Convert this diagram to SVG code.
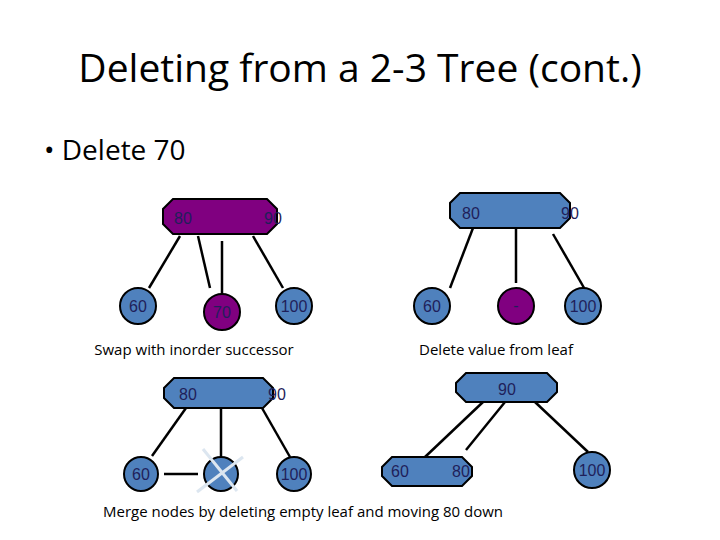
<svg xmlns="http://www.w3.org/2000/svg" width="720" height="540" viewBox="0 0 720 540">
<style>
.b{fill:#4f81bd;stroke:#000;stroke-width:2}
.p{fill:#800080;stroke:#000;stroke-width:2}
.t{font-family:"Liberation Sans",Arial,sans-serif;font-size:16px;fill:#1f1f5a;text-anchor:middle}
.c{stroke:#000;stroke-width:2.5;fill:none}
.cap{font-family:"Open Sans","Liberation Sans",sans-serif;font-size:15px;fill:#000}
</style>
<rect width="720" height="540" fill="#fff"/>
<text x="360" y="82" font-family="Open Sans, Liberation Sans, sans-serif" font-size="39" text-anchor="middle" fill="#000">Deleting from a 2-3 Tree (cont.)</text>
<text x="44" y="160" font-family="Open Sans, Liberation Sans, sans-serif" font-size="28" fill="#000">• Delete 70</text>
<g id="connectors">
<line class="c" x1="180" y1="236" x2="149" y2="288"/>
<line class="c" x1="198" y1="236" x2="210" y2="288"/>
<line class="c" x1="222" y1="241" x2="222" y2="294"/>
<line class="c" x1="253" y1="236" x2="283" y2="288"/>
<line class="c" x1="473" y1="228" x2="450" y2="288"/>
<line class="c" x1="516" y1="228" x2="516" y2="283"/>
<line class="c" x1="553" y1="234" x2="587" y2="293"/>
<line class="c" x1="186" y1="408" x2="152" y2="456"/>
<line class="c" x1="221" y1="408" x2="221" y2="456"/>
<line class="c" x1="262" y1="408" x2="290" y2="457"/>
<line class="c" x1="164" y1="474" x2="198" y2="474"/>
<line class="c" x1="483" y1="402" x2="425" y2="457"/>
<line class="c" x1="505" y1="402" x2="466" y2="450"/>
<line class="c" x1="535" y1="402" x2="588" y2="452"/>
</g>
<g id="n1"><polygon class="p" points="173,199 267,199 277,209 277,224 267,234 173,234 163,224 163,209"/><text class="t" x="183" y="224">80</text><text class="t" x="273" y="224">90</text></g>
<g id="n2"><circle class="b" cx="138" cy="306" r="18"/><text class="t" x="138" y="312">60</text></g>
<g id="n3"><circle class="p" cx="222" cy="312" r="18"/><text class="t" x="222" y="318">70</text></g>
<g id="n4"><circle class="b" cx="294" cy="306" r="18"/><text class="t" x="294" y="312">100</text></g>
<text class="cap" x="194" y="355" text-anchor="middle">Swap with inorder successor</text>
<g id="n5"><polygon class="b" points="460,193 560,193 570,203 570,218 560,228 460,228 450,218 450,203"/><text class="t" x="471" y="219">80</text><text class="t" x="570" y="219">90</text></g>
<g id="n6"><circle class="b" cx="432" cy="306" r="18"/><text class="t" x="432" y="312">60</text></g>
<g id="n7"><circle class="p" cx="516" cy="306" r="18"/><text class="t" x="516" y="311" fill="#3a3a8a">-</text></g>
<g id="n8"><circle class="b" cx="583" cy="306" r="18"/><text class="t" x="583" y="312">100</text></g>
<text class="cap" x="496" y="355" text-anchor="middle">Delete value from leaf</text>
<g id="n9"><polygon class="b" points="174,378 263,378 273,388 273,398 263,408 174,408 164,398 164,388"/><text class="t" x="188" y="400">80</text><text class="t" x="277" y="400">90</text></g>
<g id="n10"><circle class="b" cx="141" cy="474" r="17"/><text class="t" x="141" y="480">60</text></g>
<g id="n11"><circle class="b" cx="221" cy="474" r="17"/><line x1="197" y1="492" x2="243" y2="457" stroke="#dce6f0" stroke-width="3"/><line x1="203" y1="449" x2="237" y2="491" stroke="#dce6f0" stroke-width="3"/></g>
<g id="n12"><circle class="b" cx="294" cy="474" r="17"/><text class="t" x="294" y="480">100</text></g>
<g id="n13"><polygon class="b" points="466,373 547,373 557,383 557,392 547,402 466,402 456,392 456,383"/><text class="t" x="507" y="395">90</text></g>
<g id="n14"><polygon class="b" points="392,457 462,457 472,467 472,476 462,486 392,486 382,476 382,467"/><text class="t" x="400" y="477">60</text><text class="t" x="461" y="477">80</text></g>
<g id="n15"><circle class="b" cx="592" cy="470" r="18"/><text class="t" x="592" y="476">100</text></g>
<text class="cap" x="103" y="517">Merge nodes by deleting empty leaf and moving 80 down</text>
</svg>
